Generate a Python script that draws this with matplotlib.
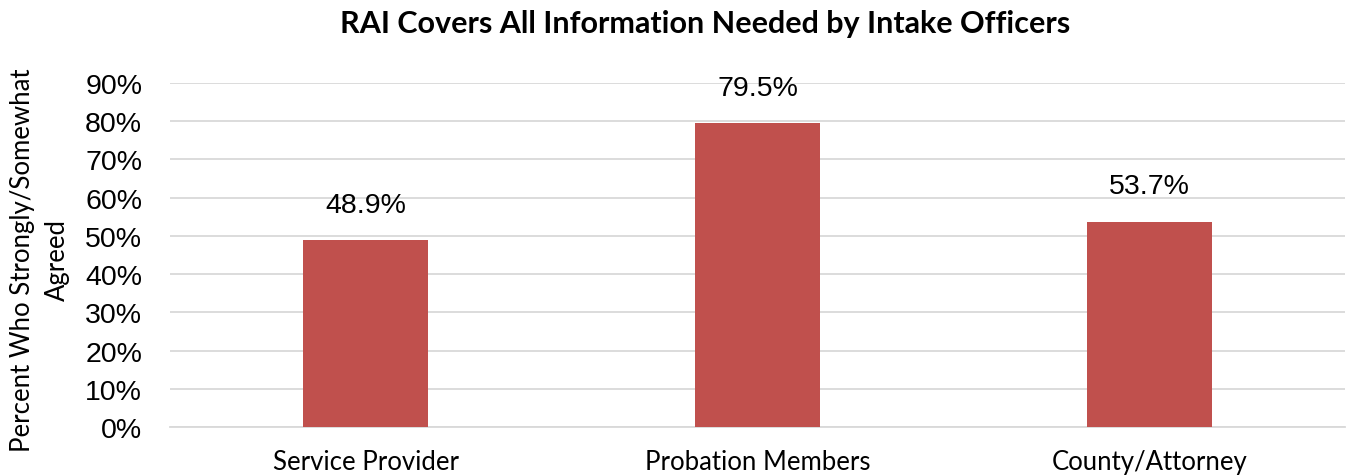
import matplotlib
matplotlib.use("Agg")
import matplotlib.pyplot as plt

categories = ["Service Provider", "Probation Members", "County/Attorney"]
values = [48.9, 79.5, 53.7]
value_labels = ["48.9%", "79.5%", "53.7%"]
y_ticks = [0, 10, 20, 30, 40, 50, 60, 70, 80, 90]

fig = plt.figure(figsize=(13.54, 4.77), dpi=100)
ax = fig.add_axes([0.1255, 0.1027, 0.868, 0.7212])

x = range(len(categories))
bars = ax.bar(x, values, width=0.32, color="#c0504d", zorder=3)

for bar, label in zip(bars, value_labels):
    ax.text(bar.get_x() + bar.get_width() / 2, bar.get_height() + 9.3, label,
            ha="center", va="center", fontsize=20.5, family="Liberation Sans")

ax.set_xlim(-0.5, len(categories) - 0.5)
ax.set_ylim(0, 90)
ax.set_yticks(y_ticks)
ax.set_yticklabels([f"{t}%" for t in y_ticks], fontsize=20.5, family="Liberation Sans")
ax.set_xticks(list(x))
ax.set_xticklabels(categories, fontsize=18.5, family="Lato")
ax.tick_params(length=0)
ax.tick_params(axis="y", pad=20)
ax.tick_params(axis="x", pad=16)

ax.grid(True, axis="y", color="#d9d9d9", linewidth=1.3, zorder=0)
for side in ["top", "right", "left"]:
    ax.spines[side].set_visible(False)
ax.spines["bottom"].set_color("#d9d9d9")
ax.spines["bottom"].set_linewidth(1.3)

fig.text(0.0295, 0.455, "Percent Who Strongly/Somewhat\nAgreed", rotation=90,
         ha="center", va="center", fontsize=18.5, family="Lato", linespacing=1.5)

fig.suptitle("RAI Covers All Information Needed by Intake Officers",
             fontsize=22, fontweight="bold", family="Lato", x=0.5207, y=0.98)

fig.savefig("out.png", dpi=100)
